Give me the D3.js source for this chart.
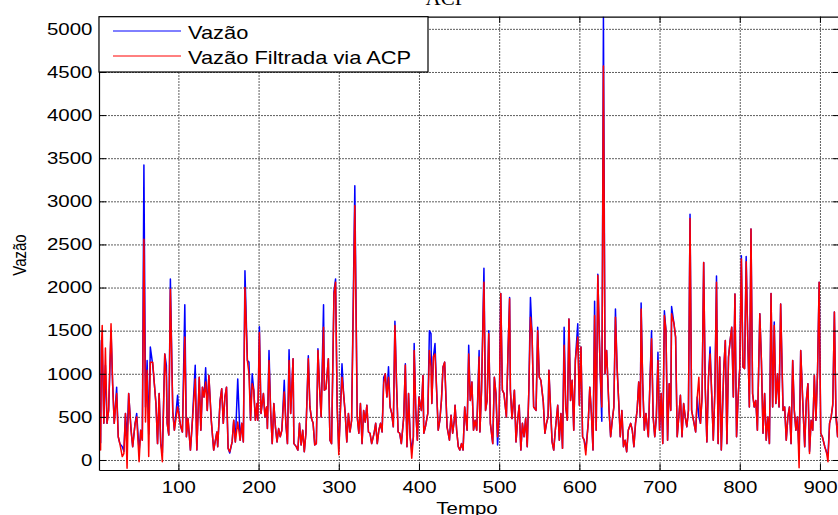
<!DOCTYPE html>
<html>
<head>
<meta charset="utf-8">
<script src="https://cdnjs.cloudflare.com/ajax/libs/d3/7.8.5/d3.min.js"></script>
<style>
  body { margin: 0; background: #fff; }
  svg { display: block; }
</style>
</head>
<body>
<svg></svg>
<script>
// values (time step, flow, PCA filtered flow)
const tempo = [
  1,2,3,4,5,7,9,11,13,16,
  18,20,23,25,27,30,32,34,36,38,
  41,43,46,48,51,53,55,57,59,61,
  63,65,68,70,72,74,76,78,80,83,
  85,86,88,90,93,95,99,101,103,105,
  108,110,112,115,117,121,123,126,128,130,
  132,134,136,138,141,144,148,149,152,154,
  156,158,160,162,164,167,169,171,174,177,
  179,181,183,186,188,190,192,194,196,198,
  199,201,203,206,208,210,211,213,215,217,
  219,221,223,225,227,229,232,234,236,238,
  240,243,244,247,249,251,253,255,257,259,
  262,264,266,268,270,272,274,276,278,281,
  282,284,287,289,291,294,296,298,300,302,
  304,306,308,310,312,314,316,320,323,325,
  327,329,331,333,335,337,339,341,344,346,
  348,350,352,354,356,358,360,362,364,366,
  368,370,372,374,376,378,381,383,385,387,
  389,391,393,394,396,398,400,403,405,406,
  408,411,413,415,416,418,420,422,424,426,
  428,430,432,434,435,438,440,442,444,445,
  447,449,451,453,455,457,460,462,464,466,
  468,470,472,475,476,478,481,483,485,487,
  489,492,494,496,498,500,502,504,506,509,
  511,513,514,516,519,521,523,525,527,529,
  531,533,535,537,539,541,543,546,548,550,
  552,555,557,559,561,562,564,566,568,570,
  573,575,577,579,581,583,585,587,589,591,
  593,595,598,600,602,604,606,608,611,613,
  615,617,619,621,623,626,628,630,632,634,
  637,639,641,643,645,647,649,651,653,655,
  657,659,661,664,666,668,670,672,674,676,
  677,679,681,683,686,688,690,692,694,696,
  698,700,702,704,706,708,710,712,714,715,
  718,720,722,724,726,728,730,732,734,736,
  738,740,743,745,747,749,751,753,755,757,
  759,761,763,765,767,769,771,773,775,777,
  780,782,784,786,788,790,792,794,796,798,
  800,802,804,806,808,810,812,814,816,818,
  820,822,825,827,829,831,833,835,837,839,
  841,843,845,847,849,851,854,856,858,860,
  862,864,866,868,870,872,874,876,879,881,
  883,885,887,889,891,893,895,897,899,901,
  903,906,908,910,912,914,916,918,920,922,
  924
];

const vazao = [
  660,655,200,1385,1380,425,1100,425,575,1500,
  885,425,845,270,190,155,100,540,250,770,
  345,155,425,540,100,345,230,3420,615,1155,
  300,1310,1100,885,655,190,770,190,80,1230,
  1100,425,290,2100,560,345,750,500,385,325,
  1800,270,480,115,385,1100,115,960,345,845,
  730,1070,575,980,460,115,325,155,690,825,
  425,730,845,135,80,210,460,210,940,230,
  425,210,2195,1155,1135,460,1000,810,460,655,
  460,1545,540,770,500,615,365,1270,575,190,
  655,385,210,365,270,345,925,425,190,1280,
  540,1175,190,155,115,425,175,345,95,310,
  1210,615,480,425,175,190,1290,845,500,1800,
  810,825,1175,230,190,1950,2100,615,115,575,
  1115,770,540,210,540,325,460,3180,500,310,
  655,190,575,440,635,325,310,190,310,425,
  190,345,425,325,960,1000,730,1080,615,540,
  385,1610,885,325,310,190,500,1115,155,770,
  270,115,270,1350,575,230,730,575,980,310,
  385,540,1500,1465,655,1195,1350,810,345,460,
  690,1080,1135,635,385,230,520,310,460,635,
  345,155,115,190,115,615,345,1330,690,905,
  345,460,345,1270,325,810,2225,575,690,1500,
  425,190,960,770,175,500,1930,810,770,500,
  1250,1885,810,480,810,210,460,635,115,425,
  270,480,155,810,1885,1465,615,575,1540,960,
  925,675,310,425,500,1040,615,210,115,345,
  635,230,540,135,1540,615,460,1635,690,925,
  345,1155,1580,635,1310,270,230,115,425,845,
  540,115,1840,345,2155,1000,450,5150,1000,1270,
  575,270,460,615,1750,1080,690,270,575,155,
  230,95,345,425,345,155,425,575,905,500,
  1820,885,345,540,270,905,1500,500,270,500,
  1250,345,770,190,1730,1500,230,885,575,1780,
  1580,1425,270,500,750,270,655,500,385,575,
  2850,575,425,325,730,500,425,730,2290,825,
  210,960,1310,770,230,810,2135,190,1195,115,
  1040,1385,190,1195,1385,1540,730,1925,270,730,
  1060,2370,1080,1060,2360,1400,615,2680,770,615,
  690,345,1695,1155,310,770,230,500,190,1930,
  615,1600,655,1000,615,1810,575,615,230,500,
  615,190,1155,575,345,500,80,1270,575,155,
  690,885,100,460,345,980,460,1020,2060,310,
  270,155,95,60,425,500,635,1715,500,270,
  600
];

const vazaoFiltrada = [
  640,400,115,1300,1560,425,1300,425,575,1580,
  885,425,770,270,190,40,75,540,-95,770,
  345,155,425,500,-20,345,230,2560,440,1040,
  40,1135,1135,885,655,190,770,190,-20,1230,
  960,425,290,1980,560,345,615,500,385,325,
  1425,270,480,115,385,940,115,960,345,845,
  730,905,575,980,460,115,325,155,690,825,
  425,730,845,135,95,210,460,210,440,230,
  425,210,2000,1155,1000,460,885,810,460,655,
  460,1480,540,770,500,615,365,1155,575,190,
  655,385,210,365,270,345,790,425,190,1155,
  540,1175,190,155,115,425,175,345,95,310,
  1175,615,480,425,175,190,1270,845,500,1540,
  810,825,1175,230,190,1920,2060,615,60,575,
  960,770,540,210,540,325,460,2950,500,310,
  655,190,575,440,635,325,310,190,310,425,
  190,345,425,325,885,1000,730,960,615,540,
  385,1560,885,325,310,190,500,1100,155,770,
  270,20,270,1270,575,230,730,575,980,310,
  385,540,1270,1080,655,1195,1230,810,345,460,
  690,1080,1135,635,385,230,520,310,460,635,
  345,155,115,190,115,615,345,1230,690,905,
  345,460,345,1195,325,810,2060,575,690,1465,
  425,190,960,770,270,500,1930,810,770,500,
  1250,1870,810,480,810,210,460,635,115,425,
  270,480,155,810,1655,1465,615,575,1500,960,
  925,675,310,425,500,1040,615,210,115,345,
  635,230,540,135,1330,615,460,1635,690,925,
  345,1155,1425,635,1310,270,230,60,425,845,
  540,115,1675,345,2140,1000,615,4570,1000,1270,
  575,270,460,615,1655,1080,690,270,575,155,
  230,95,345,425,345,155,425,575,905,500,
  1750,885,345,540,270,905,1405,500,270,500,
  1155,345,770,190,1675,1500,230,885,575,1695,
  1580,1425,270,500,750,270,655,500,385,575,
  2800,575,425,325,730,960,425,730,2290,825,
  210,960,1230,770,230,810,2060,190,1195,115,
  1040,1385,190,1195,1385,1540,730,1925,270,730,
  1060,2330,1080,1060,2300,1400,615,2680,770,615,
  690,345,1695,1155,310,770,230,500,190,1930,
  615,1560,655,1000,615,1810,575,615,230,500,
  615,190,1155,575,345,500,-90,1270,575,155,
  690,885,75,460,345,980,460,1020,2060,310,
  270,155,95,-20,425,500,655,1715,500,270,
  600
];

const xTicks = [100, 200, 300, 400, 500, 600, 700, 800, 900];
const yTicks = [0, 500, 1000, 1500, 2000, 2500, 3000, 3500, 4000, 4500, 5000];
const legendLabels = ["Vazão", "Vazão Filtrada via ACP"];
const seriesColors = ["#0000ff", "#ff0000"];

const w = 838;
const h = 515;
const plotLeft = 99;
const plotRight = 840;
const plotTop = 16.7;
const plotBottom = 470;
const fontFam = "'Liberation Sans', Arial, Helvetica, sans-serif";
const stretch = 1.24;   // the picture text is a bit wide

const svg = d3.select("svg")
              .attr("width", w)
              .attr("height", h);

svg.append("rect")
   .attr("width", w)
   .attr("height", h)
   .attr("fill", "#fff");

const xScale = d3.scaleLinear()
                 .domain([1, 925])
                 .range([plotLeft, plotRight]);

const yScale = d3.scaleLinear()
                 .domain([-116, 5141])
                 .range([plotBottom, plotTop]);

// grid
const grid = svg.append("g").attr("class", "grid");
grid.append("g")
    .attr("transform", "translate(0," + plotBottom + ")")
    .call(d3.axisBottom(xScale).tickValues(xTicks).tickSize(-(plotBottom - plotTop)).tickFormat(""));
grid.append("g")
    .attr("transform", "translate(" + plotLeft + ",0)")
    .call(d3.axisLeft(yScale).tickValues(yTicks).tickSize(-(plotRight - plotLeft)).tickFormat(""));
grid.selectAll(".domain").remove();
grid.selectAll("line")
    .attr("stroke", "#5e5e5e")
    .attr("stroke-width", 1)
    .attr("stroke-dasharray", "2,1");

// data lines
svg.append("clipPath")
   .attr("id", "plot-clip")
   .append("rect")
   .attr("x", plotLeft)
   .attr("y", plotTop)
   .attr("width", plotRight - plotLeft)
   .attr("height", plotBottom - plotTop);

const line = d3.line()
               .x((d) => xScale(d[0]))
               .y((d) => yScale(d[1]));

const series = [vazao, vazaoFiltrada];
series.forEach((vals, k) => {
  svg.append("path")
     .datum(tempo.map((t, i) => [t, vals[i]]))
     .attr("clip-path", "url(#plot-clip)")
     .attr("fill", "none")
     .attr("stroke", seriesColors[k])
     .attr("stroke-width", 1.5)
     .attr("stroke-linejoin", "round")
     .attr("d", line);
});

// axes, ticks pointing inwards like matlab
const axisStyle = (g) => {
  g.selectAll(".domain").attr("stroke", "#000").attr("stroke-width", 1.2);
  g.selectAll(".tick line").attr("stroke", "#000");
  g.selectAll("text")
   .attr("font-family", fontFam)
   .attr("font-size", 16.5)
   .attr("fill", "#000")
   .attr("transform", "scale(" + stretch + ",1)");
};

svg.append("g")
   .attr("transform", "translate(0," + plotBottom + ")")
   .call(d3.axisBottom(xScale).tickValues(xTicks).tickSize(-6).tickSizeOuter(0)
           .tickPadding(11).tickFormat(d3.format("d")))
   .call(axisStyle);

svg.append("g")
   .attr("transform", "translate(" + plotLeft + ",0)")
   .call(d3.axisLeft(yScale).tickValues(yTicks).tickSize(-7).tickSizeOuter(0)
           .tickPadding(5.3).tickFormat(d3.format("d")))
   .call(axisStyle);

svg.append("g")
   .attr("transform", "translate(0," + plotTop + ")")
   .call(d3.axisTop(xScale).tickValues(xTicks).tickSize(-6).tickSizeOuter(0).tickFormat(""))
   .call(axisStyle);

svg.append("g")
   .attr("transform", "translate(" + plotRight + ",0)")
   .call(d3.axisRight(yScale).tickValues(yTicks).tickSize(-7).tickSizeOuter(0).tickFormat(""))
   .call(axisStyle);

// legend
const legend = svg.append("g");
legend.append("rect")
      .attr("x", plotLeft)
      .attr("y", plotTop)
      .attr("width", 428 - plotLeft)
      .attr("height", 72 - plotTop)
      .attr("fill", "#fff")
      .attr("stroke", "#000")
      .attr("stroke-width", 1.2);

legendLabels.forEach((lab, i) => {
  const yy = 31 + i * 25;
  legend.append("line")
        .attr("x1", 113)
        .attr("x2", 181)
        .attr("y1", yy)
        .attr("y2", yy)
        .attr("stroke", seriesColors[i])
        .attr("stroke-width", 1);
  legend.append("text")
        .attr("transform", "translate(188," + (yy + 8.3) + ") scale(1.25,1)")
        .attr("font-family", fontFam)
        .attr("font-size", 17.5)
        .text(lab);
});

// labels (the reference picture is cropped through the title and x label)
svg.append("text")
   .attr("transform", "translate(467,514) scale(" + stretch + ",1)")
   .attr("text-anchor", "middle")
   .attr("font-family", fontFam)
   .attr("font-size", 16.5)
   .text("Tempo");

svg.append("text")
   .attr("transform", "translate(26,255) rotate(-90) scale(1," + stretch + ")")
   .attr("text-anchor", "middle")
   .attr("font-family", fontFam)
   .attr("font-size", 15)
   .text("Vazão");

svg.append("text")
   .attr("x", 446)
   .attr("y", 5)
   .attr("text-anchor", "middle")
   .attr("font-family", "'Liberation Serif', 'Times New Roman', serif")
   .attr("font-size", 21)
   .text("ACP");
</script>
</body>
</html>
